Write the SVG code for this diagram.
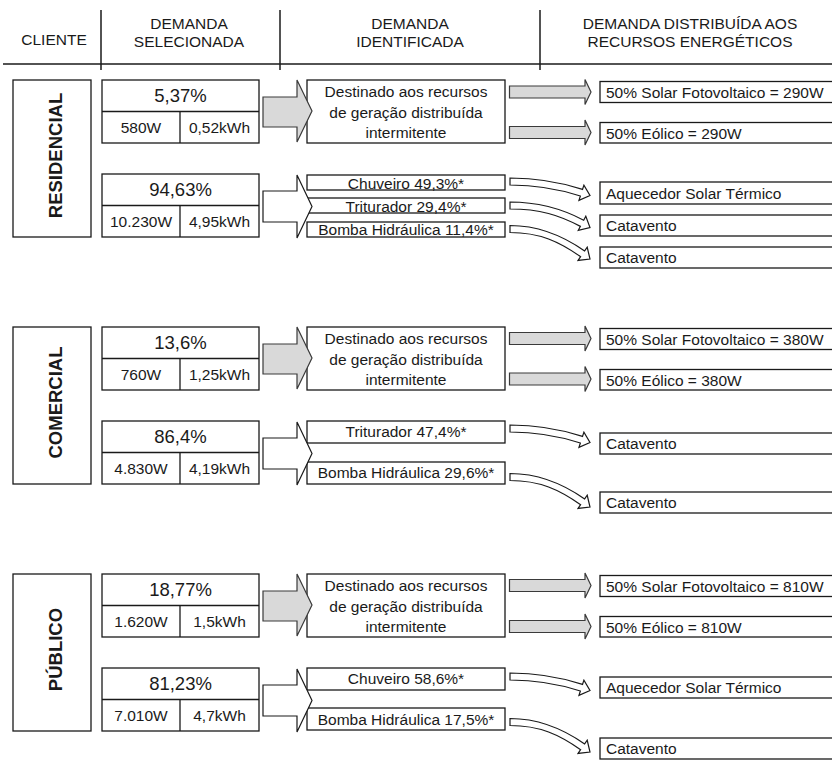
<svg xmlns="http://www.w3.org/2000/svg" xmlns:xlink="http://www.w3.org/1999/xlink" width="832" height="760" viewBox="0 0 832 760">
  <style>
    .t{font-family:"Liberation Sans",Arial,sans-serif;font-size:15.5px;fill:#1a1a1a}
    .c{text-anchor:middle}
    .pct{font-size:18.5px}
    .lbl{font-weight:bold;font-size:18.5px;text-anchor:middle}
    .box{fill:#fff;stroke:#1a1a1a;stroke-width:1.3}
    .rule{stroke:#1a1a1a;stroke-width:1.5;fill:none}
    .ga{fill:#d9d9d9;stroke:#3a3a3a;stroke-width:1.2}
    .wa{fill:#fff;stroke:#1a1a1a;stroke-width:1.2}
  </style>
  <defs>
    <!-- block arrows, drawn relative to the section top -->
    <polygon id="bigGray" points="263,17 297,17 297,0 312,31 297,62 297,47 263,47"/>
    <polygon id="bigWhite" points="263,111 297,111 297,95 312,126.5 297,158 297,142 263,142"/>
    <!-- small shaded arrow, relative to its centre line -->
    <polygon id="smallGray" points="509.5,-6 585,-6 585,-12.5 591,0 585,12.5 585,6 509.5,6"/>
    <!-- curved arrows: gentle, medium and steep drop -->
    <path id="curveA" d="M510,178 C538,178 559.7,181.97 582.52,189.39 L583.91,185.11 L590,195.5 L578.97,200.33 L580.36,196.05 C557.54,188.63 538,185 510,185 Z"/>
    <path id="curveB" d="M510,202 C540,202 562.5,208.93 583.69,220.19 L585.8,216.22 L590,227.5 L578.3,230.34 L580.41,226.37 C559.22,215.11 540,209 510,209 Z"/>
    <path id="curveC" d="M510,225.5 C540,225.5 563.35,236.04 584.64,250.96 L587.22,247.28 L590,259 L578.04,260.38 L580.62,256.7 C559.33,241.78 540,232.5 510,232.5 Z"/>
  </defs>

  <!-- column headings -->
  <g id="header">
    <line class="rule" x1="3" y1="64" x2="832" y2="64"/>
    <line class="rule" x1="101" y1="10" x2="101" y2="70"/>
    <line class="rule" x1="280" y1="10" x2="280" y2="70"/>
    <line class="rule" x1="540" y1="10" x2="540" y2="70"/>
    <text class="t c" x="54" y="45">CLIENTE</text>
    <text class="t c" x="189" y="29">DEMANDA</text>
    <text class="t c" x="189" y="47">SELECIONADA</text>
    <text class="t c" x="410" y="29">DEMANDA</text>
    <text class="t c" x="410" y="47">IDENTIFICADA</text>
    <text class="t c" x="690" y="29">DEMANDA DISTRIBUÍDA AOS</text>
    <text class="t c" x="690" y="47">RECURSOS ENERGÉTICOS</text>
  </g>

  <!-- RESIDENCIAL -->
  <g id="residencial">
    <rect class="box" x="13" y="80" width="78" height="157"/>
    <text class="t lbl" transform="translate(61.5,155.5) rotate(-90)">RESIDENCIAL</text>
  </g>
  <g id="res-sel-int">
    <rect class="box" x="102" y="80" width="157" height="63"/>
    <line class="rule" style="stroke-width:1.3" x1="102" y1="111.5" x2="259" y2="111.5"/>
    <line class="rule" style="stroke-width:1.3" x1="180" y1="111.5" x2="180" y2="143"/>
    <text class="t c pct" x="180.5" y="102">5,37%</text>
    <text class="t c" x="141" y="133">580W</text>
    <text class="t c" x="219.5" y="133">0,52kWh</text>
  </g>
  <g id="res-sel-other">
    <rect class="box" x="102" y="174" width="157" height="63"/>
    <line class="rule" style="stroke-width:1.3" x1="102" y1="205.5" x2="259" y2="205.5"/>
    <line class="rule" style="stroke-width:1.3" x1="180" y1="205.5" x2="180" y2="237"/>
    <text class="t c pct" x="180.5" y="196">94,63%</text>
    <text class="t c" x="141" y="227">10.230W</text>
    <text class="t c" x="219.5" y="227">4,95kWh</text>
  </g>
  <g id="res-intermitente">
    <rect class="box" x="307" y="80" width="198" height="63"/>
    <text class="t c" x="406" y="97">Destinado aos recursos</text>
    <text class="t c" x="406" y="118">de geração distribuída</text>
    <text class="t c" x="406" y="138">intermitente</text>
  </g>
  <g id="res-chuveiro"><rect class="box" x="307" y="175" width="198" height="15"/><text class="t c" x="406" y="188.5">Chuveiro 49,3%*</text></g>
  <g id="res-triturador"><rect class="box" x="307" y="198" width="198" height="15"/><text class="t c" x="406" y="211.5">Triturador 29,4%*</text></g>
  <g id="res-bomba"><rect class="box" x="307" y="222" width="198" height="15"/><text class="t c" x="406" y="235">Bomba Hidráulica 11,4%*</text></g>
  <g id="res-solar"><rect class="box" x="600" y="81.5" width="240" height="21"/><text class="t" x="606" y="97.5">50% Solar Fotovoltaico = 290W</text></g>
  <g id="res-eolico"><rect class="box" x="600" y="122.5" width="240" height="20.5"/><text class="t" x="606" y="138.5">50% Eólico = 290W</text></g>
  <g id="res-aquecedor"><rect class="box" x="600" y="182" width="240" height="22"/><text class="t" x="606" y="198.5">Aquecedor Solar Térmico</text></g>
  <g id="res-catavento1"><rect class="box" x="600" y="215" width="240" height="21"/><text class="t" x="606" y="231">Catavento</text></g>
  <g id="res-catavento2"><rect class="box" x="600" y="247" width="240" height="21"/><text class="t" x="606" y="262.5">Catavento</text></g>

  <!-- COMERCIAL -->
  <g id="comercial">
    <rect class="box" x="13" y="327" width="78" height="157"/>
    <text class="t lbl" transform="translate(61.5,402.5) rotate(-90)">COMERCIAL</text>
  </g>
  <g id="com-sel-int">
    <rect class="box" x="102" y="327" width="157" height="63"/>
    <line class="rule" style="stroke-width:1.3" x1="102" y1="358.5" x2="259" y2="358.5"/>
    <line class="rule" style="stroke-width:1.3" x1="180" y1="358.5" x2="180" y2="390"/>
    <text class="t c pct" x="180.5" y="349">13,6%</text>
    <text class="t c" x="141" y="380">760W</text>
    <text class="t c" x="219.5" y="380">1,25kWh</text>
  </g>
  <g id="com-sel-other">
    <rect class="box" x="102" y="421" width="157" height="63"/>
    <line class="rule" style="stroke-width:1.3" x1="102" y1="452.5" x2="259" y2="452.5"/>
    <line class="rule" style="stroke-width:1.3" x1="180" y1="452.5" x2="180" y2="484"/>
    <text class="t c pct" x="180.5" y="443">86,4%</text>
    <text class="t c" x="141" y="474">4.830W</text>
    <text class="t c" x="219.5" y="474">4,19kWh</text>
  </g>
  <g id="com-intermitente">
    <rect class="box" x="307" y="327" width="198" height="63"/>
    <text class="t c" x="406" y="344">Destinado aos recursos</text>
    <text class="t c" x="406" y="365">de geração distribuída</text>
    <text class="t c" x="406" y="385">intermitente</text>
  </g>
  <g id="com-triturador"><rect class="box" x="307" y="421" width="198" height="22"/><text class="t c" x="406" y="437">Triturador 47,4%*</text></g>
  <g id="com-bomba"><rect class="box" x="307" y="462" width="198" height="22"/><text class="t c" x="406" y="478">Bomba Hidráulica 29,6%*</text></g>
  <g id="com-solar"><rect class="box" x="600" y="328.5" width="240" height="21"/><text class="t" x="606" y="344.5">50% Solar Fotovoltaico = 380W</text></g>
  <g id="com-eolico"><rect class="box" x="600" y="369.5" width="240" height="20.5"/><text class="t" x="606" y="385.5">50% Eólico = 380W</text></g>
  <g id="com-catavento1"><rect class="box" x="600" y="433" width="240" height="21"/><text class="t" x="606" y="448.5">Catavento</text></g>
  <g id="com-catavento2"><rect class="box" x="600" y="492" width="240" height="21"/><text class="t" x="606" y="507.5">Catavento</text></g>

  <!-- PÚBLICO -->
  <g id="publico">
    <rect class="box" x="13" y="574" width="78" height="157"/>
    <text class="t lbl" transform="translate(61.5,649.5) rotate(-90)">PÚBLICO</text>
  </g>
  <g id="pub-sel-int">
    <rect class="box" x="102" y="574" width="157" height="63"/>
    <line class="rule" style="stroke-width:1.3" x1="102" y1="605.5" x2="259" y2="605.5"/>
    <line class="rule" style="stroke-width:1.3" x1="180" y1="605.5" x2="180" y2="637"/>
    <text class="t c pct" x="180.5" y="596">18,77%</text>
    <text class="t c" x="141" y="627">1.620W</text>
    <text class="t c" x="219.5" y="627">1,5kWh</text>
  </g>
  <g id="pub-sel-other">
    <rect class="box" x="102" y="668" width="157" height="63"/>
    <line class="rule" style="stroke-width:1.3" x1="102" y1="699.5" x2="259" y2="699.5"/>
    <line class="rule" style="stroke-width:1.3" x1="180" y1="699.5" x2="180" y2="731"/>
    <text class="t c pct" x="180.5" y="690">81,23%</text>
    <text class="t c" x="141" y="721">7.010W</text>
    <text class="t c" x="219.5" y="721">4,7kWh</text>
  </g>
  <g id="pub-intermitente">
    <rect class="box" x="307" y="574" width="198" height="63"/>
    <text class="t c" x="406" y="591">Destinado aos recursos</text>
    <text class="t c" x="406" y="612">de geração distribuída</text>
    <text class="t c" x="406" y="632">intermitente</text>
  </g>
  <g id="pub-chuveiro"><rect class="box" x="307" y="668" width="198" height="22"/><text class="t c" x="406" y="684">Chuveiro 58,6%*</text></g>
  <g id="pub-bomba"><rect class="box" x="307" y="708" width="198" height="22"/><text class="t c" x="406" y="724.5">Bomba Hidráulica 17,5%*</text></g>
  <g id="pub-solar"><rect class="box" x="600" y="575.5" width="240" height="21"/><text class="t" x="606" y="591.5">50% Solar Fotovoltaico = 810W</text></g>
  <g id="pub-eolico"><rect class="box" x="600" y="616.5" width="240" height="20.5"/><text class="t" x="606" y="632.5">50% Eólico = 810W</text></g>
  <g id="pub-aquecedor"><rect class="box" x="600" y="677" width="240" height="21"/><text class="t" x="606" y="692.5">Aquecedor Solar Térmico</text></g>
  <g id="pub-catavento"><rect class="box" x="600" y="738" width="240" height="21"/><text class="t" x="606" y="753.5">Catavento</text></g>

  <!-- connectors -->
  <g id="connectors">
    <use xlink:href="#bigGray" class="ga" transform="translate(0,80)"/>
    <use xlink:href="#bigWhite" class="wa" transform="translate(0,80)"/>
    <use xlink:href="#bigGray" class="ga" transform="translate(0,327)"/>
    <use xlink:href="#bigWhite" class="wa" transform="translate(0,327)"/>
    <use xlink:href="#bigGray" class="ga" transform="translate(0,574)"/>
    <use xlink:href="#bigWhite" class="wa" transform="translate(0,574)"/>

    <use xlink:href="#smallGray" class="ga" transform="translate(0,92)"/>
    <use xlink:href="#smallGray" class="ga" transform="translate(0,132.5)"/>
    <use xlink:href="#smallGray" class="ga" transform="translate(0,338.5)"/>
    <use xlink:href="#smallGray" class="ga" transform="translate(0,379)"/>
    <use xlink:href="#smallGray" class="ga" transform="translate(0,585.5)"/>
    <use xlink:href="#smallGray" class="ga" transform="translate(0,626.5)"/>

    <use xlink:href="#curveA" class="wa"/>
    <use xlink:href="#curveB" class="wa"/>
    <use xlink:href="#curveC" class="wa"/>
    <use xlink:href="#curveA" class="wa" transform="translate(0,247)"/>
    <use xlink:href="#curveC" class="wa" transform="translate(0,248)"/>
    <use xlink:href="#curveA" class="wa" transform="translate(0,495)"/>
    <use xlink:href="#curveC" class="wa" transform="translate(0,493)"/>
  </g>
</svg>
